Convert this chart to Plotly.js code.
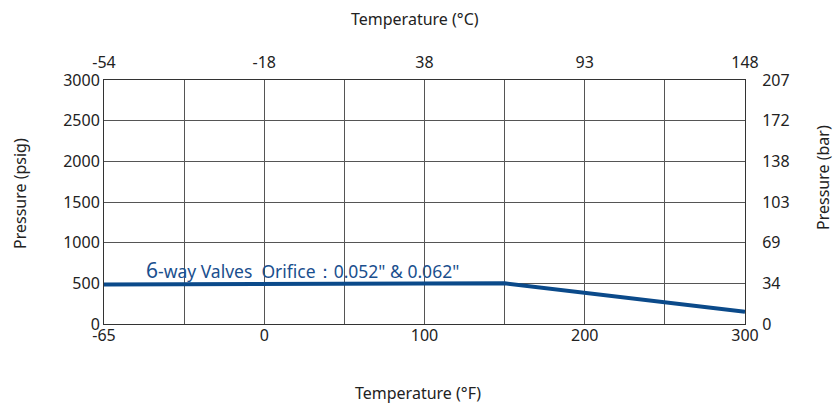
<!DOCTYPE html>
<html><head><meta charset="utf-8">
<script src="https://cdn.plot.ly/plotly-3.0.1.min.js"></script>
<style>html,body{margin:0;padding:0;background:#fff}#chart{width:834px;height:409px}</style>
</head><body><div id="chart"></div>
<script>
// Axis positions (°F scale; leftmost gridline is labelled -65)
const xTickPos = [-100, -50, 0, 50, 100, 150, 200, 250, 300];
const xTickF   = ['-65', '', '0', '', '100', '', '200', '', '300'];
const xTickC   = ['-54', '', '-18', '', '38', '', '93', '', '148'];
const yTickPsi = [0, 500, 1000, 1500, 2000, 2500, 3000];
const yTickBar = ['0', '34', '69', '103', '138', '172', '207'];
// Series: 6-way valves, orifice 0.052" & 0.062"
const seriesX = [-100, 150, 300];
const seriesPsi = [485, 500, 150];

const font = 'Noto Sans, Open Sans, sans-serif';
const gridC = '#555';
const traces = [
  {x: seriesX, y: seriesPsi, type: 'scatter', mode: 'lines',
   line: {color: '#0b4a8a', width: 4}, xaxis: 'x', yaxis: 'y', hoverinfo: 'skip'},
  {x: [seriesX[0]], y: [seriesPsi[0]], type: 'scatter', mode: 'markers',
   marker: {opacity: 0}, xaxis: 'x2', yaxis: 'y2', hoverinfo: 'skip'}
];
const L = 104, R = 89, T = 80, B = 85, W = 834, H = 409;
const pw = W - L - R, ph = H - T - B;
function px(x){return (x - L) / pw;}
function py(y){return (H - B - y) / ph;}
const layout = {
  width: W, height: H,
  margin: {l: L, r: R, t: T, b: B},
  paper_bgcolor: '#fff', plot_bgcolor: '#fff',
  showlegend: false,
  font: {family: font, size: 16, color: '#222'},
  xaxis: {range: [-100, 300], tickmode: 'array', tickvals: xTickPos, ticktext: xTickF,
    showgrid: true, gridcolor: gridC, gridwidth: 1, zeroline: false,
    showline: true, linecolor: '#333', linewidth: 1, ticks: '',
    ticklabelstandoff: -3, tickfont: {size: 16}},
  xaxis2: {range: [-100, 300], overlaying: 'x', side: 'top', tickmode: 'array',
    tickvals: xTickPos, ticktext: xTickC, showgrid: false, zeroline: false,
    showline: true, linecolor: '#333', linewidth: 1, ticks: '', ticklabelstandoff: 5, tickfont: {size: 16}},
  yaxis: {range: [0, 3000], tickmode: 'array', tickvals: yTickPsi,
    ticktext: yTickPsi.map(String), showgrid: true, gridcolor: gridC, gridwidth: 1,
    zeroline: false, showline: true, linecolor: '#333', linewidth: 1, ticks: '',
    ticklabelstandoff: 0, tickfont: {size: 16}},
  yaxis2: {range: [0, 3000], overlaying: 'y', side: 'right', tickmode: 'array',
    tickvals: yTickPsi, ticktext: yTickBar, showgrid: false, zeroline: false,
    showline: true, linecolor: '#333', linewidth: 1, ticks: '', ticklabelstandoff: 13,
    tickfont: {size: 16}},
  annotations: [
    {text: 'Temperature (°C)', xref: 'paper', yref: 'paper', x: px(415), y: py(19),
     showarrow: false, font: {size: 16, color: '#222'}, xanchor: 'center', yanchor: 'middle'},
    {text: 'Temperature (°F)', xref: 'paper', yref: 'paper', x: px(418), y: py(393),
     showarrow: false, font: {size: 16, color: '#222'}, xanchor: 'center', yanchor: 'middle'},
    {text: 'Pressure (psig)', xref: 'paper', yref: 'paper', x: px(20), y: py(194),
     textangle: -90, showarrow: false, font: {size: 16, color: '#222'}, xanchor: 'center', yanchor: 'middle'},
    {text: 'Pressure (bar)', xref: 'paper', yref: 'paper', x: px(823), y: py(178),
     textangle: -90, showarrow: false, font: {size: 16, color: '#222'}, xanchor: 'center', yanchor: 'middle'},
    {text: '<span style="font-size:21px">6</span>-way Valves  Orifice：0.052" &amp; 0.062"',
     xref: 'paper', yref: 'paper', x: px(144), y: py(270), xanchor: 'left', yanchor: 'middle',
     showarrow: false, font: {size: 17.5, color: '#1a4f8e'}}
  ]
};
Plotly.newPlot('chart', traces, layout, {staticPlot: true, displayModeBar: false});
</script></body></html>
